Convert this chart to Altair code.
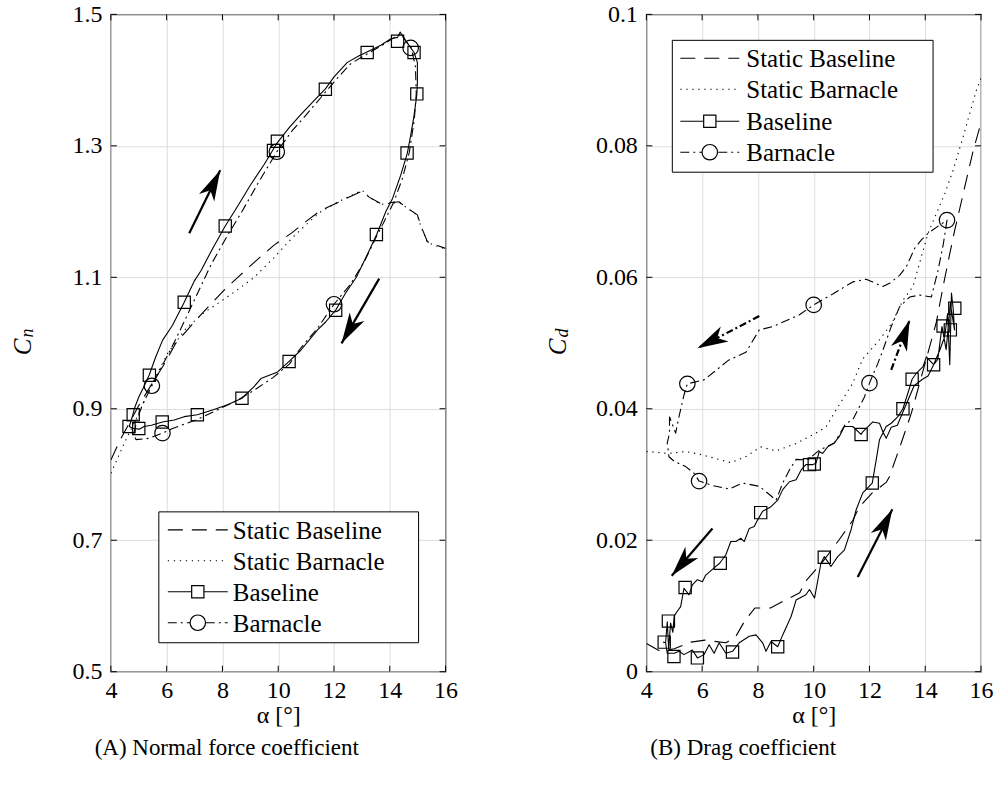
import math
import altair as alt
import pandas as pd

FONT = "Liberation Serif"
W, H = 335, 658

X_TICKS = [4, 6, 8, 10, 12, 14, 16]
CN_TICKS = [0.5, 0.7, 0.9, 1.1, 1.3, 1.5]
CD_TICKS = [0, 0.02, 0.04, 0.06, 0.08, 0.1]
LEGEND_LABELS = ["Static Baseline", "Static Barnacle", "Baseline", "Barnacle"]
CAPTIONS = ["(A) Normal force coefficient", "(B) Drag coefficient"]

# ---------------- Normal force coefficient (Cn) ----------------
cn_static_base_a = [4.0, 4.3, 5.0, 5.5, 5.9, 6.33, 7.05, 7.6, 8.0, 8.55, 9.2, 9.85, 10.5, 11.0, 11.53,
                    12.2, 12.84, 13.02, 13.26, 13.68, 14.33, 14.57, 14.99, 15.11, 15.35, 15.65, 16.0]
cn_static_base_v = [0.822, 0.850, 0.905, 0.940, 0.967, 1.000, 1.035, 1.060, 1.078, 1.100, 1.125, 1.149,
                    1.168, 1.185, 1.202, 1.215, 1.228, 1.231, 1.222, 1.212, 1.215, 1.207, 1.195, 1.179,
                    1.154, 1.149, 1.144]
cn_static_barn_a = [4.0, 4.54, 5.0, 5.5, 6.03, 6.69, 7.3, 8.0, 8.6, 9.14, 9.85, 10.5, 11.0, 11.53,
                    12.2, 12.84, 13.02, 13.26, 13.68, 14.33, 14.57, 14.99, 15.11, 15.35, 15.65, 16.0]
cn_static_barn_v = [0.802, 0.853, 0.893, 0.940, 0.984, 1.022, 1.045, 1.065, 1.083, 1.100, 1.130, 1.160,
                    1.180, 1.200, 1.216, 1.229, 1.232, 1.222, 1.211, 1.214, 1.207, 1.194, 1.178, 1.153,
                    1.148, 1.143]
cn_base_a = [4.78, 4.84, 5.0, 5.2, 5.37, 5.6, 5.85, 6.21, 6.63, 7.0, 7.23, 7.6, 8.1, 8.5, 9.0, 9.5,
             9.97, 10.4, 10.8, 11.2, 11.7, 12.0, 12.48, 12.9, 13.2, 13.68, 14.04, 14.28, 14.37, 14.57,
             14.87, 14.99, 14.99, 14.97, 14.87, 14.75, 14.63, 14.39, 14.1, 13.86, 13.53, 13.2, 12.8,
             12.4, 12.06, 11.7, 11.41, 10.81, 10.39, 9.98, 9.38, 9.14, 8.7, 8.18, 7.7, 7.1, 6.63, 6.27,
             5.85, 5.45, 5.19, 5.02, 4.8, 4.66, 4.78]
cn_base_v = [0.890, 0.900, 0.918, 0.935, 0.951, 0.978, 1.004, 1.027, 1.062, 1.095, 1.110, 1.140,
             1.178, 1.205, 1.240, 1.272, 1.305, 1.328, 1.347, 1.365, 1.387, 1.405, 1.427, 1.437, 1.443,
             1.453, 1.463, 1.465, 1.473, 1.460, 1.442, 1.427, 1.397, 1.378, 1.346, 1.316, 1.289,
             1.255, 1.220, 1.200, 1.165, 1.135, 1.100, 1.075, 1.050, 1.032, 1.020, 0.989, 0.972,
             0.956, 0.946, 0.934, 0.916, 0.906, 0.899, 0.891, 0.888, 0.883, 0.880, 0.875, 0.873,
             0.869, 0.870, 0.873, 0.890]
cn_barn_a = [4.82, 4.95, 5.15, 5.47, 5.8, 6.2, 6.6, 7.1, 7.6, 8.2, 8.7, 9.3, 9.95, 10.5, 11.0, 11.6,
             12.1, 12.6, 13.2, 13.8, 14.2, 14.4, 14.6, 14.77, 14.92, 14.95, 14.88, 14.7, 14.45, 14.15,
             13.8, 13.5, 13.1, 12.6, 12.0, 11.4, 10.8, 10.4, 9.8, 9.2, 8.54, 7.76, 7.05, 6.21, 5.85,
             5.37, 4.9, 4.82]
cn_barn_v = [0.862, 0.885, 0.908, 0.935, 0.962, 0.995, 1.030, 1.075, 1.120, 1.165, 1.200, 1.245,
             1.291, 1.323, 1.347, 1.377, 1.402, 1.425, 1.440, 1.455, 1.466, 1.470, 1.458, 1.449,
             1.420, 1.380, 1.340, 1.290, 1.250, 1.215, 1.185, 1.160, 1.125, 1.090, 1.059, 1.022,
             0.992, 0.968, 0.947, 0.930, 0.913, 0.897, 0.883, 0.870, 0.863, 0.855, 0.853, 0.862]
cn_base_mark_a = [6.63, 8.10, 9.97, 9.83, 11.69, 13.19, 14.28, 14.87, 14.97, 14.62, 13.52, 12.06,
                  5.38, 4.80, 4.65, 5.0, 5.84, 7.1, 8.7, 10.39]
cn_base_mark_v = [1.062, 1.178, 1.307, 1.293, 1.386, 1.442, 1.459, 1.442, 1.379, 1.289, 1.165, 1.050,
                  0.951, 0.891, 0.873, 0.870, 0.880, 0.891, 0.916, 0.972]
cn_barn_mark_a = [9.95, 14.75, 12.0, 5.47, 5.85]
cn_barn_mark_v = [1.291, 1.449, 1.059, 0.935, 0.863]
# arrows: tail alpha, tail value, tip alpha, tip value
cn_arrow_a0 = [6.81, 13.62]
cn_arrow_v0 = [1.167, 1.098]
cn_arrow_a1 = [7.92, 12.27]
cn_arrow_v1 = [1.263, 0.9995]

# ---------------- Drag coefficient (Cd) ----------------
cd_static_base_a = [4.0, 4.5, 5.0, 5.6, 6.1, 6.85, 7.2, 7.55, 7.9, 8.45, 8.9, 9.5, 9.7, 10.3, 10.9,
                    11.4, 11.64, 12.1, 12.6, 12.72, 13.14, 13.5, 14.0, 14.4, 14.64, 14.88, 15.06, 15.36,
                    15.72, 16.0]
cd_static_base_v = [0.0043, 0.0031, 0.0035, 0.0045, 0.0048, 0.0044, 0.0053, 0.0079, 0.0097, 0.0097,
                    0.0107, 0.0120, 0.0137, 0.0166, 0.0200, 0.0230, 0.0251, 0.0272, 0.0288, 0.0297,
                    0.0348, 0.0393, 0.0470, 0.0532, 0.0586, 0.0636, 0.0672, 0.0727, 0.0793, 0.0835]
cd_static_barn_a = [4.0, 4.8, 5.41, 5.9, 6.25, 7.03, 7.6, 8.1, 8.65, 9.36, 10.08, 10.44, 10.8, 11.4,
                    11.76, 12.36, 12.8, 13.2, 13.56, 13.86, 14.1, 14.7, 15.0, 15.36, 15.83, 16.0]
cd_static_barn_v = [0.0335, 0.0332, 0.0335, 0.0331, 0.0327, 0.0318, 0.0328, 0.0342, 0.0336, 0.0347,
                    0.0363, 0.0372, 0.0398, 0.0439, 0.0476, 0.0505, 0.0530, 0.0565, 0.0586, 0.0631,
                    0.0667, 0.0727, 0.0763, 0.0814, 0.0884, 0.0903]
cd_base_a = [4.69, 4.75, 5.0, 5.17, 5.35, 5.65, 5.83, 6.07, 6.25, 6.43, 6.61, 6.85, 7.09, 7.33, 7.69,
             7.93, 8.17, 8.29, 8.47, 8.71, 8.89, 9.19, 9.37, 9.72, 9.85, 10.03, 10.26, 10.38, 10.62,
             10.86, 11.1, 11.34, 11.52, 11.76, 12.1, 12.24, 12.36, 12.6, 12.78, 13.02, 13.2, 13.38,
             13.53, 13.68, 13.92, 14.04, 14.3, 14.52, 14.7, 14.8, 14.88, 14.94, 15.0, 15.05,
             14.9, 14.75, 14.6, 14.45, 14.3, 14.1, 13.9, 13.6, 13.35, 13.2, 13.0, 12.78, 12.6, 12.48,
             12.36, 12.12, 11.76, 11.7, 11.4, 11.1, 10.92, 10.74, 10.5, 10.32, 10.2, 10.08, 9.96,
             9.72, 9.55, 9.37, 9.13, 8.89, 8.71, 8.47, 8.17, 7.99, 7.87, 7.69, 7.51, 7.39, 7.21,
             7.03, 6.85, 6.63, 6.43, 6.13, 6.01, 5.83, 5.65, 5.53, 5.35, 5.23, 5.11, 5.0, 4.95, 4.87,
             4.8, 4.75, 4.69, 4.6]
cd_base_v = [0.0044, 0.0028, 0.0028, 0.0031, 0.0026, 0.0033, 0.0021, 0.0026, 0.0041, 0.0028, 0.0044,
             0.0028, 0.0031, 0.0044, 0.0054, 0.0056, 0.0044, 0.0031, 0.0046, 0.0038, 0.0056, 0.0084,
             0.0109, 0.0117, 0.0125, 0.0112, 0.0165, 0.0175, 0.0160, 0.0175, 0.0185, 0.0216, 0.0246,
             0.0272, 0.0287, 0.0322, 0.0353, 0.0373, 0.0378, 0.0388, 0.0400, 0.0424, 0.0445, 0.0454,
             0.0464, 0.0479, 0.0467, 0.0489, 0.0510, 0.0545, 0.0467, 0.0576, 0.0553, 0.0520,
             0.0560, 0.0490, 0.0525, 0.0475, 0.0467, 0.0450, 0.0445, 0.0435, 0.0410, 0.0395, 0.0375,
             0.0372, 0.0355, 0.0365, 0.0378, 0.0380, 0.0365, 0.0361, 0.0373, 0.0373, 0.0358, 0.0348,
             0.0342, 0.0332, 0.0335, 0.0317, 0.0315, 0.0315, 0.0307, 0.0292, 0.0289, 0.0277, 0.0261,
             0.0251, 0.0244, 0.0231, 0.0221, 0.0218, 0.0198, 0.0203, 0.0198, 0.0198, 0.0178, 0.0165,
             0.0158, 0.0147, 0.0137, 0.0140, 0.0132, 0.0117, 0.0127, 0.0099, 0.0092, 0.0085, 0.0060,
             0.0074, 0.0035, 0.0076, 0.0044, 0.0045]
cd_barn_a = [4.83, 4.83, 4.75, 4.81, 5.0, 5.41, 5.71, 5.89, 6.4, 6.97, 7.45, 8.05, 8.4, 8.65, 8.89,
             9.13, 9.37, 9.78, 10.2, 10.74, 11.16, 11.4, 11.64, 11.82, 12.0, 12.3, 12.48, 12.78, 13.08,
             13.44, 13.8, 14.22, 14.46, 14.65, 14.78, 14.16, 13.86, 13.62, 13.32, 13.08, 12.72, 12.48,
             11.88, 11.4, 10.7, 10.0, 9.49, 8.53, 8.05, 7.57, 6.95, 6.07, 5.47, 5.35, 5.17, 5.05, 4.83]
cd_barn_v = [0.0388, 0.0363, 0.0348, 0.0327, 0.0320, 0.0312, 0.0302, 0.0290, 0.0283, 0.0278, 0.0287,
             0.0282, 0.0270, 0.0261, 0.0287, 0.0307, 0.0323, 0.0322, 0.0337, 0.0348, 0.0378, 0.0383,
             0.0403, 0.0418, 0.0439, 0.0469, 0.0489, 0.0525, 0.0555, 0.0570, 0.0573, 0.0570, 0.0611,
             0.0651, 0.0687, 0.0669, 0.0657, 0.0644, 0.0616, 0.0603, 0.0591, 0.0586, 0.0597, 0.0593,
             0.0575, 0.0558, 0.0543, 0.0525, 0.0520, 0.0486, 0.0474, 0.0444, 0.0438, 0.0421, 0.0388,
             0.0363, 0.0388]
cd_base_mark_a = [4.64, 4.79, 4.99, 5.83, 7.09, 8.71, 10.38, 12.1, 13.2, 13.53, 14.3, 14.64, 14.9,
                  15.06, 11.7, 9.85, 10.02, 8.1, 6.65, 5.39]
cd_base_mark_v = [0.0045, 0.0077, 0.0023, 0.0021, 0.0030, 0.0038, 0.0174, 0.0287, 0.0400, 0.0445,
                  0.0467, 0.0526, 0.0520, 0.0553, 0.0361, 0.0315, 0.0316, 0.0242, 0.0165, 0.0128]
cd_barn_mark_a = [5.47, 5.89, 10.0, 12.0, 14.78]
cd_barn_mark_v = [0.0438, 0.0290, 0.0558, 0.0439, 0.0687]
cd_arrow_a0 = [11.58, 6.37]
cd_arrow_v0 = [0.0144, 0.0218]
cd_arrow_a1 = [12.82, 4.91]
cd_arrow_v1 = [0.0247, 0.0146]
cd_darrow_a0 = [8.05, 12.78]
cd_darrow_v0 = [0.0541, 0.0459]
cd_darrow_a1 = [5.83, 13.44]
cd_darrow_v1 = [0.0492, 0.0535]

# ---------------- styling ----------------
DASH_STATIC_BASE = [15, 9]
DASH_STATIC_BARN = [1.3, 4.7]
DASH_BARN = [9, 4, 2, 4]
ARROW_PATH = "M0,0L0.55,2L0,1.45L-0.55,2Z"
LW = 1.1


def make_panel(ydom, yticks, yfmt, sets, arrows, darrows, leg, ylab, cap_x, caption):
    xs = alt.Scale(domain=[4, 16], nice=False, zero=False)
    ys = alt.Scale(domain=ydom, nice=False, zero=False)
    xax = alt.Axis(values=X_TICKS, title="α [°]", grid=True, ticks=False, domain=False,
                   labelPadding=7, labelFlush=False, titlePadding=1)
    yax = alt.Axis(values=yticks, format=yfmt, title=None, grid=True, ticks=False, domain=False,
                   labelPadding=9, labelFlush=False)

    def X(f):
        return alt.X(f, scale=xs, axis=xax)

    def Y(f):
        return alt.Y(f, scale=ys, axis=yax)

    yspan = ydom[1] - ydom[0]
    layers = []

    # inward tick marks on all four sides
    xt = pd.DataFrame({"a": X_TICKS})
    yt = pd.DataFrame({"v": yticks})
    for yy0, yy1 in [(H, H - 6), (0, 6)]:
        layers.append(alt.Chart(xt).mark_rule(color="black", strokeWidth=1).encode(
            x=X("a:Q"), y=alt.value(yy0), y2=alt.value(yy1)))
    for xx0, xx1 in [(0, 6), (W, W - 6)]:
        layers.append(alt.Chart(yt).mark_rule(color="black", strokeWidth=1).encode(
            y=Y("v:Q"), x=alt.value(xx0), x2=alt.value(xx1)))

    def line(a, v, dash):
        df = pd.DataFrame({"a": a, "v": v, "i": list(range(len(a)))})
        kw = dict(color="black", strokeWidth=LW, clip=True, strokeJoin="round")
        if dash is not None:
            kw["strokeDash"] = dash
        return alt.Chart(df).mark_line(**kw).encode(x=X("a:Q"), y=Y("v:Q"), order="i:Q")

    def marks(a, v, shape, size):
        df = pd.DataFrame({"a": a, "v": v})
        return alt.Chart(df).mark_point(shape=shape, size=size, filled=False, color="black",
                                        strokeWidth=1.2, opacity=1).encode(x=X("a:Q"), y=Y("v:Q"))

    (sba, sbv), (sna, snv), (ba, bv), (na, nv), (bma, bmv), (nma, nmv) = sets
    layers.append(line(sba, sbv, DASH_STATIC_BASE))
    layers.append(line(sna, snv, DASH_STATIC_BARN))
    layers.append(line(na, nv, DASH_BARN))
    layers.append(line(ba, bv, None))
    layers.append(marks(bma, bmv, "square", 150))
    layers.append(marks(nma, nmv, "circle", 240))

    def arrow_layers(a0, v0, a1, v1, dash):
        ang = []
        for i in range(len(a0)):
            dx = (a1[i] - a0[i]) * W / 12.0
            dy = -(v1[i] - v0[i]) * H / yspan
            ang.append(math.degrees(math.atan2(dx, -dy)) % 360)
        df = pd.DataFrame({"a0": a0, "v0": v0, "a1": a1, "v1": v1, "ang": ang})
        kw = dict(color="black", strokeWidth=2.2)
        if dash is not None:
            kw["strokeDash"] = dash
        shaft = alt.Chart(df).mark_rule(**kw).encode(
            x=X("a0:Q"), y=Y("v0:Q"), x2="a1:Q", y2="v1:Q")
        head = alt.Chart(df).mark_point(shape=ARROW_PATH, size=950, filled=True, color="black",
                                        opacity=1, strokeWidth=0).encode(
            x=X("a1:Q"), y=Y("v1:Q"), angle=alt.Angle("ang:Q", scale=None))
        return [shaft, head]

    if arrows:
        layers += arrow_layers(*arrows, None)
    if darrows:
        layers += arrow_layers(*darrows, [7, 3, 2, 3])

    # hand-built legend
    one = pd.DataFrame({"k": [0]})
    bx0, bx1, by0, by1, rows, lx0, lx1, tx = leg
    layers.append(alt.Chart(one).mark_rect(fill="white", stroke="black", strokeWidth=1).encode(
        x=alt.value(bx0), x2=alt.value(bx1), y=alt.value(by0), y2=alt.value(by1)))
    dashes = [DASH_STATIC_BASE, DASH_STATIC_BARN, None, DASH_BARN]
    shapes = [None, None, ("square", 150), ("circle", 240)]
    for r, lab, d, shp in zip(rows, LEGEND_LABELS, dashes, shapes):
        kw = dict(color="black", strokeWidth=LW)
        if d is not None:
            kw["strokeDash"] = d
        layers.append(alt.Chart(one).mark_rule(**kw).encode(
            x=alt.value(lx0), x2=alt.value(lx1), y=alt.value(r)))
        if shp:
            layers.append(alt.Chart(one).mark_point(shape=shp[0], size=shp[1], filled=True,
                                                   fill="white", stroke="black", strokeWidth=1.2,
                                                   opacity=1).encode(
                x=alt.value((lx0 + lx1) / 2), y=alt.value(r)))
        layers.append(alt.Chart(one).mark_text(text=lab, font=FONT, fontSize=25, align="left",
                                               baseline="middle", color="black").encode(
            x=alt.value(tx), y=alt.value(r + 1)))

    # y-axis label with subscript
    layers.append(alt.Chart(one).mark_text(text="C", font=FONT, fontSize=25, fontStyle="italic",
                                           angle=270, align="center", baseline="middle",
                                           color="black").encode(
        x=alt.value(-88), y=alt.value(H / 2 + 4)))
    layers.append(alt.Chart(one).mark_text(text=ylab, font=FONT, fontSize=18, fontStyle="italic",
                                           angle=270, align="center", baseline="middle",
                                           color="black").encode(
        x=alt.value(-83), y=alt.value(H / 2 - 10)))
    # caption
    layers.append(alt.Chart(one).mark_text(text=caption, font=FONT, fontSize=23, align="center",
                                           baseline="middle", color="black").encode(
        x=alt.value(cap_x), y=alt.value(H + 76)))

    return alt.layer(*layers).properties(width=W, height=H)


left = make_panel(
    [0.5, 1.5], CN_TICKS, ".1f",
    [(cn_static_base_a, cn_static_base_v), (cn_static_barn_a, cn_static_barn_v),
     (cn_base_a, cn_base_v), (cn_barn_a, cn_barn_v),
     (cn_base_mark_a, cn_base_mark_v), (cn_barn_mark_a, cn_barn_mark_v)],
    (cn_arrow_a0, cn_arrow_v0, cn_arrow_a1, cn_arrow_v1), None,
    (48, 308, 498, 629, [516, 547, 578, 609], 57, 117, 122),
    "n", 116, CAPTIONS[0])

right = make_panel(
    [0, 0.1], CD_TICKS, "~g",
    [(cd_static_base_a, cd_static_base_v), (cd_static_barn_a, cd_static_barn_v),
     (cd_base_a, cd_base_v), (cd_barn_a, cd_barn_v),
     (cd_base_mark_a, cd_base_mark_v), (cd_barn_mark_a, cd_barn_mark_v)],
    (cd_arrow_a0, cd_arrow_v0, cd_arrow_a1, cd_arrow_v1),
    (cd_darrow_a0, cd_darrow_v0, cd_darrow_a1, cd_darrow_v1),
    (26, 287, 26, 158, [44, 75, 107, 138], 34, 93, 100),
    "d", 97, CAPTIONS[1])

chart = alt.hconcat(left, right, spacing=87).properties(
    padding={"left": 10, "top": 1, "right": 5, "bottom": 5}
).configure_view(stroke="black", strokeWidth=1.2).configure_axis(
    labelFont=FONT, labelFontSize=24, labelColor="black", titleFont=FONT, titleFontSize=24,
    titleFontWeight="normal", titleColor="black", gridColor="#dedede", gridWidth=1
)

chart.save("out.html", embed_options={"renderer": "svg", "actions": False})
